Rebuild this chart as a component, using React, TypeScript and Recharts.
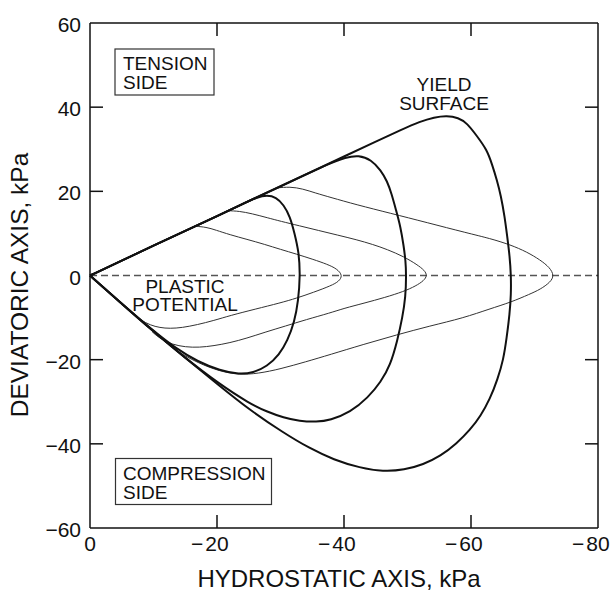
import React from "react";
import { LineChart, Line, XAxis, YAxis, ReferenceLine } from "recharts";

const xTicks = [0, -20, -40, -60, -80];
const yTicks = [60, 40, 20, 0, -20, -40, -60];
// inner tick marks drawn on all four sides of the frame
const xInnerTicks = [-20, -40, -60];
const yInnerTicks = [40, 20, -20, -40];

// yield surfaces (thick): tension meridian -> cap -> compression meridian
const yieldSmall = [
  { x: 0, y: 0 }, { x: -5, y: 3.5 }, { x: -10, y: 7.1 }, { x: -15, y: 10.6 }, { x: -20, y: 14.1 },
  { x: -24, y: 17 }, { x: -26.3, y: 18.6 }, { x: -27.9, y: 19.1 }, { x: -29.3, y: 18.6 },
  { x: -30.5, y: 16.8 }, { x: -31.5, y: 14 }, { x: -32.2, y: 10.1 }, { x: -32.9, y: 5.5 },
  { x: -33.1, y: 0 }, { x: -32.8, y: -6 }, { x: -32.2, y: -11 }, { x: -31.1, y: -15.5 },
  { x: -29.8, y: -18.8 }, { x: -27.9, y: -21.6 }, { x: -25.7, y: -23.1 }, { x: -23.5, y: -23.5 },
  { x: -20.5, y: -22.6 }, { x: -17, y: -20.5 }, { x: -13.5, y: -17.3 }, { x: -10, y: -13.2 },
  { x: -5, y: -6.7 }, { x: 0, y: 0 },
];

const yieldMid = [
  { x: 0, y: 0 }, { x: -5, y: 3.5 }, { x: -10, y: 7.1 }, { x: -15, y: 10.6 }, { x: -20, y: 14.1 },
  { x: -25, y: 17.7 }, { x: -30, y: 21.2 }, { x: -34, y: 24 }, { x: -37.5, y: 26.5 },
  { x: -40.3, y: 28.1 }, { x: -42.3, y: 28.6 }, { x: -44.3, y: 27.5 }, { x: -45.8, y: 25 },
  { x: -46.8, y: 22.4 }, { x: -47.5, y: 19.4 }, { x: -48.2, y: 15.5 }, { x: -48.9, y: 11.6 },
  { x: -49.4, y: 7 }, { x: -49.7, y: 3.5 }, { x: -49.8, y: 0 }, { x: -49.7, y: -5 },
  { x: -49.2, y: -10 }, { x: -48.4, y: -15.5 }, { x: -47.3, y: -21.3 }, { x: -45.8, y: -25.3 },
  { x: -43.8, y: -29 }, { x: -41, y: -32.5 }, { x: -37.8, y: -34.4 }, { x: -35.7, y: -34.8 },
  { x: -33, y: -34.6 }, { x: -30.5, y: -33.8 }, { x: -27.8, y: -32.3 }, { x: -25.2, y: -30.5 },
  { x: -20, y: -25.4 }, { x: -15, y: -19.6 }, { x: -10, y: -13.3 }, { x: -5, y: -6.7 }, { x: 0, y: 0 },
];

const yieldLarge = [
  { x: 0, y: 0 }, { x: -5, y: 3.5 }, { x: -10, y: 7.1 }, { x: -15, y: 10.6 }, { x: -20, y: 14.1 },
  { x: -25, y: 17.7 }, { x: -30, y: 21.2 }, { x: -35, y: 24.7 }, { x: -40, y: 28.3 },
  { x: -45, y: 31.8 }, { x: -49, y: 34.6 }, { x: -52, y: 36.6 }, { x: -54.2, y: 37.6 },
  { x: -56.2, y: 38 }, { x: -58, y: 37.5 }, { x: -59.4, y: 36.2 }, { x: -60.9, y: 33.2 },
  { x: -62.5, y: 29.9 }, { x: -63.3, y: 26.5 }, { x: -64.1, y: 22.6 }, { x: -64.7, y: 19 },
  { x: -65.3, y: 14 }, { x: -65.7, y: 9.3 }, { x: -66.1, y: 4.5 }, { x: -66.3, y: 0 },
  { x: -66.3, y: -4.5 }, { x: -66.1, y: -9 }, { x: -65.6, y: -15 }, { x: -65.1, y: -20 },
  { x: -64.2, y: -24.6 }, { x: -63, y: -29.3 }, { x: -61.5, y: -33.4 }, { x: -59.9, y: -36.6 },
  { x: -57.7, y: -40 }, { x: -55.2, y: -42.9 }, { x: -52.5, y: -44.9 }, { x: -49.5, y: -46.2 },
  { x: -46.2, y: -46.6 }, { x: -42.5, y: -45.7 }, { x: -38.4, y: -43.8 }, { x: -34.5, y: -41 },
  { x: -30.5, y: -37.4 }, { x: -25, y: -31.8 }, { x: -20, y: -25.7 }, { x: -15, y: -19.6 },
  { x: -10, y: -13.3 }, { x: -5, y: -6.7 }, { x: 0, y: 0 },
];

// plastic potential curves (thin)
const potentialSmall = [
  { x: -16.6, y: 11.7 }, { x: -18.3, y: 11.5 }, { x: -19.8, y: 10.8 }, { x: -22, y: 9.7 },
  { x: -24.7, y: 8.6 }, { x: -27.5, y: 7.4 }, { x: -30, y: 6.2 }, { x: -32.5, y: 5.1 },
  { x: -35.2, y: 3.8 }, { x: -37.3, y: 2.7 }, { x: -38.9, y: 1.6 }, { x: -39.8, y: 0 },
  { x: -39.2, y: -1.4 }, { x: -38, y: -2.4 }, { x: -35.2, y: -4 }, { x: -32.5, y: -5.4 },
  { x: -30, y: -6.5 }, { x: -26, y: -8 }, { x: -22.1, y: -9.5 }, { x: -19.5, y: -10.7 },
  { x: -16.9, y: -11.7 }, { x: -14.5, y: -12.4 }, { x: -12.6, y: -12.6 }, { x: -11, y: -12.4 },
  { x: -9.5, y: -11.8 }, { x: -8, y: -10.6 }, { x: -6.9, y: -9.3 },
];

const potentialMid = [
  { x: -21.6, y: 15.4 }, { x: -23.5, y: 15.3 }, { x: -25.5, y: 14.7 }, { x: -28, y: 13.7 },
  { x: -30, y: 12.9 }, { x: -33, y: 11.8 }, { x: -36, y: 10.7 }, { x: -39, y: 9.6 },
  { x: -42, y: 8.5 }, { x: -44.5, y: 7.4 }, { x: -46.8, y: 6.2 }, { x: -49.4, y: 4.5 },
  { x: -51.5, y: 2.6 }, { x: -52.7, y: 1.2 }, { x: -53.1, y: 0 }, { x: -52.6, y: -1.2 },
  { x: -51.3, y: -2.5 }, { x: -49.4, y: -3.8 }, { x: -46.5, y: -5.2 }, { x: -43.1, y: -6.6 },
  { x: -40, y: -7.8 }, { x: -37.8, y: -8.9 }, { x: -34, y: -10.5 }, { x: -30.8, y: -12 },
  { x: -27.5, y: -13.5 }, { x: -24.7, y: -14.9 }, { x: -22, y: -16 }, { x: -19.5, y: -16.7 },
  { x: -17.2, y: -17.1 }, { x: -15, y: -17 }, { x: -13, y: -16.4 }, { x: -11.2, y: -15.2 },
  { x: -9.8, y: -13.4 },
];

const potentialLarge = [
  { x: -29.4, y: 20.8 }, { x: -31.5, y: 21.1 }, { x: -33.5, y: 20.6 }, { x: -35.5, y: 19.6 },
  { x: -37.8, y: 18.6 }, { x: -42, y: 16.8 }, { x: -47.3, y: 14.8 }, { x: -53, y: 12.6 },
  { x: -59.4, y: 10.1 }, { x: -63, y: 8.8 }, { x: -66.2, y: 7.3 }, { x: -68.8, y: 5.6 },
  { x: -70.9, y: 3.7 }, { x: -72.4, y: 1.9 }, { x: -73.1, y: 0 }, { x: -72.5, y: -1.6 },
  { x: -70.9, y: -3.3 }, { x: -69.3, y: -4.4 }, { x: -66.2, y: -6.4 }, { x: -63, y: -7.9 },
  { x: -58.8, y: -10.1 }, { x: -53.5, y: -12 }, { x: -48.3, y: -14.1 }, { x: -43, y: -16.4 },
  { x: -37.8, y: -18.8 }, { x: -34, y: -20.5 }, { x: -30, y: -22.2 }, { x: -26.5, y: -23.3 },
  { x: -23.5, y: -23.6 }, { x: -20.5, y: -22.8 }, { x: -17, y: -20.8 }, { x: -13.8, y: -18.1 },
  { x: -11.5, y: -15.3 },
];

const FONT = '"Liberation Sans", Arial, Helvetica, sans-serif';
const INK = "#111";
// recharts hands the tick its label anchor: axis + tickSize + tickMargin
const TICK_SIZE = 6;
const TICK_MARGIN = 2;
const OFF = TICK_SIZE + TICK_MARGIN;

// plot box is 508 x 506 px for 80 x 120 kPa; inner marks are 13 px long
const PLOT_W = 508;
const PLOT_H = 506;
const MARK_PX = 13;
const markX = (MARK_PX * 80) / PLOT_W;
const markY = (MARK_PX * 120) / PLOT_H;

const NumLabel = ({ x, y, value, anchor }: any) => {
  // digits sit on the tick, the minus sign hangs to the left
  const neg = value < 0;
  const digits = String(Math.abs(value));
  if (anchor === "middle") {
    const half = digits.length * 5.9;
    return (
      <g fill={INK} fontFamily={FONT} fontSize={21}>
        <text x={x} y={y} textAnchor="middle">{digits}</text>
        {neg && <text x={x - half - 2} y={y} textAnchor="end">{"\u2212"}</text>}
      </g>
    );
  }
  return (
    <text x={x} y={y} textAnchor="end" fill={INK} fontFamily={FONT} fontSize={21}>
      {neg ? "\u2212" + digits : digits}
    </text>
  );
};

const BottomTick = ({ x, y, payload }: any) => (
  <NumLabel x={x} y={y - OFF + 23} value={payload.value} anchor="middle" />
);

const LeftTick = ({ x, y, payload }: any) => (
  <NumLabel x={x + OFF - 9} y={y + 9} value={payload.value} anchor="end" />
);

export default function App() {
  const thick = { stroke: INK, strokeWidth: 2, dot: false, isAnimationActive: false, type: "basis" as const, dataKey: "y" };
  const thin = { stroke: "#333", strokeWidth: 1, dot: false, isAnimationActive: false, type: "basis" as const, dataKey: "y" };
  const axisLine = { stroke: INK, strokeWidth: 1.5 };
  const mark = { stroke: INK, strokeWidth: 1.5, ifOverflow: "visible" as const };
  return (
    <div style={{ position: "absolute", left: 0, top: 0, width: 611, height: 592, background: "#fff" }}>
      <LineChart width={611} height={592} margin={{ top: 22, right: 12, bottom: 24, left: 30 }}>
        <XAxis
          type="number" dataKey="x" domain={[-80, 0]} reversed ticks={xTicks}
          height={40} tickSize={TICK_SIZE} tickMargin={TICK_MARGIN} interval={0}
          axisLine={axisLine} tickLine={false} tick={BottomTick}
        />
        <XAxis
          xAxisId="top" orientation="top" type="number" dataKey="x" domain={[-80, 0]} reversed
          height={1} axisLine={axisLine} tickLine={false} tick={false}
        />
        <YAxis
          type="number" dataKey="y" domain={[-60, 60]} ticks={yTicks}
          width={60} tickSize={TICK_SIZE} tickMargin={TICK_MARGIN} interval={0}
          axisLine={axisLine} tickLine={false} tick={LeftTick}
        />
        <YAxis
          yAxisId="right" orientation="right" type="number" domain={[-60, 60]}
          width={1} axisLine={axisLine} tickLine={false} tick={false}
        />
        {xInnerTicks.map((t) => (
          <ReferenceLine key={"xb" + t} {...mark} segment={[{ x: t, y: -60 }, { x: t, y: -60 + markY }]} />
        ))}
        {xInnerTicks.map((t) => (
          <ReferenceLine key={"xt" + t} {...mark} segment={[{ x: t, y: 60 }, { x: t, y: 60 - markY }]} />
        ))}
        {yInnerTicks.map((t) => (
          <ReferenceLine key={"yl" + t} {...mark} segment={[{ x: 0, y: t }, { x: -markX, y: t }]} />
        ))}
        {yInnerTicks.map((t) => (
          <ReferenceLine key={"yr" + t} {...mark} segment={[{ x: -80, y: t }, { x: -80 + markX, y: t }]} />
        ))}
        <ReferenceLine y={0} stroke="#555" strokeWidth={1.5} strokeDasharray="7 4" />
        <Line data={potentialSmall} {...thin} />
        <Line data={potentialMid} {...thin} />
        <Line data={potentialLarge} {...thin} />
        <Line data={yieldSmall} {...thick} />
        <Line data={yieldMid} {...thick} />
        <Line data={yieldLarge} {...thick} />
      </LineChart>
      <svg width={611} height={592} style={{ position: "absolute", left: 0, top: 0, pointerEvents: "none" }}
        fontFamily={FONT} fill={INK}>
        <text x={339} y={587} textAnchor="middle" fontSize={24}>HYDROSTATIC AXIS, kPa</text>
        <text transform="translate(28,285) rotate(-90)" textAnchor="middle" fontSize={24.5}>DEVIATORIC AXIS, kPa</text>

        <rect x={115} y={49} width={99} height={46} fill="none" stroke="#333" strokeWidth={1.2} />
        <text x={123} y={70} fontSize={19}>TENSION</text>
        <text x={123} y={88.5} fontSize={19}>SIDE</text>

        <rect x={115.5} y={458.5} width={156} height={46} fill="none" stroke="#333" strokeWidth={1.2} />
        <text x={123} y={480} fontSize={19}>COMPRESSION</text>
        <text x={123} y={498.5} fontSize={19}>SIDE</text>

        <text x={444} y={91} textAnchor="middle" fontSize={19}>YIELD</text>
        <text x={444} y={110} textAnchor="middle" fontSize={19}>SURFACE</text>

        <text x={185} y={293} textAnchor="middle" fontSize={19}>PLASTIC</text>
        <text x={185} y={311} textAnchor="middle" fontSize={19}>POTENTIAL</text>
      </svg>
    </div>
  );
}
